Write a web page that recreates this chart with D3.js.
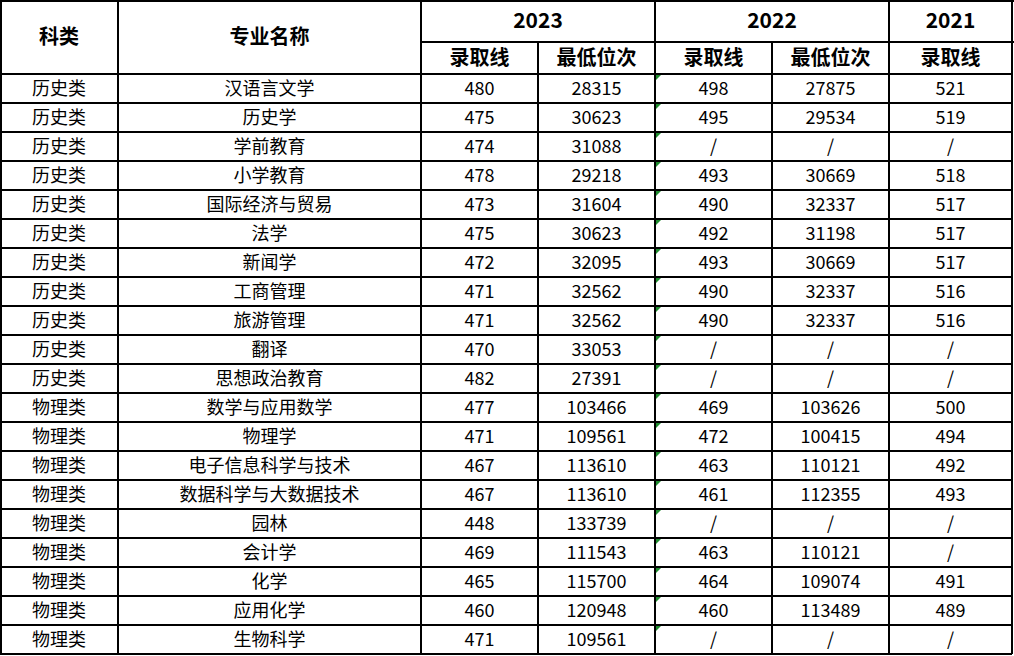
<!DOCTYPE html>
<html><head><meta charset="utf-8">
<script src="https://cdn.jsdelivr.net/npm/d3@7"></script>
<style>body{margin:0;background:#fff}text{font-family:"Noto Sans CJK SC","Noto Sans",sans-serif}</style>
</head><body>
<script>
var categories = ["历史类","历史类","历史类","历史类","历史类","历史类","历史类","历史类","历史类","历史类","历史类",
  "物理类","物理类","物理类","物理类","物理类","物理类","物理类","物理类","物理类"];
var majors = ["汉语言文学","历史学","学前教育","小学教育","国际经济与贸易","法学","新闻学","工商管理","旅游管理","翻译","思想政治教育",
  "数学与应用数学","物理学","电子信息科学与技术","数据科学与大数据技术","园林","会计学","化学","应用化学","生物科学"];
var score2023 = [480,475,474,478,473,475,472,471,471,470,482,477,471,467,467,448,469,465,460,471];
var rank2023 = [28315,30623,31088,29218,31604,30623,32095,32562,32562,33053,27391,103466,109561,113610,113610,133739,111543,115700,120948,109561];
var score2022 = ["498","495","/","493","490","492","493","490","490","/","/","469","472","463","461","/","463","464","460","/"];
var rank2022 = ["27875","29534","/","30669","32337","31198","30669","32337","32337","/","/","103626","100415","110121","112355","/","110121","109074","113489","/"];
var score2021 = ["521","519","/","518","517","517","517","516","516","/","/","500","494","492","493","/","/","491","489","/"];
var years = ["2023","2022","2021"];
var subHeads = ["录取线","最低位次","录取线","最低位次","录取线"];

var W = 1014, H = 656;
var colEdges = [0,118,421,538,655,772,889,1012];
var top2 = 42, top3 = 74, rowH = 29;
var svg = d3.select("body").append("svg").attr("width",W).attr("height",H);
var y = d3.scaleBand().domain(d3.range(20)).range([top3, top3 + 20*rowH]);

var rows = d3.range(20).map(function(i){
  return [categories[i], majors[i], score2023[i], rank2023[i], score2022[i], rank2022[i], score2021[i]];
});
var g = svg.append("g");
rows.forEach(function(r,i){
  r.forEach(function(v,c){
    g.append("text").attr("x",(colEdges[c]+colEdges[c+1])/2).attr("y",y(i)+rowH/2-2)
      .attr("text-anchor","middle").attr("dominant-baseline","central")
      .attr("font-size",18).attr("fill","#000").text(v);
  });
  g.append("path").attr("d","M"+(colEdges[4]+1)+","+(y(i)+1)+"h5l-5,5z").attr("fill","#1e8c2e");
});

function head(x0,x1,y0,y1,t,fs){
  svg.append("text").attr("x",(x0+x1)/2).attr("y",(y0+y1)/2-2)
    .attr("text-anchor","middle").attr("dominant-baseline","central")
    .attr("font-size",fs).attr("font-weight","bold").text(t);
}
head(0,118,0,top3,"科类",20);
head(118,421,0,top3,"专业名称",20);
head(421,655,0,top2,years[0],21);
head(655,889,0,top2,years[1],21);
head(889,1012,0,top2,years[2],21);
subHeads.forEach(function(t,k){ head(colEdges[k+2],colEdges[k+3],top2,top3,t,20); });

var lines = svg.append("g").attr("stroke","#000").attr("stroke-width",1.3).attr("shape-rendering","crispEdges");
var bottom = top3 + 20*rowH;
colEdges.forEach(function(x,k){
  var xx = k==0 ? 1 : x;
  lines.append("line").attr("x1",xx).attr("x2",xx).attr("y1",0).attr("y2",bottom);
});
lines.append("line").attr("x1",0).attr("x2",W).attr("y1",1).attr("y2",1);
lines.append("line").attr("x1",421).attr("x2",W).attr("y1",top2).attr("y2",top2);
d3.range(21).forEach(function(i){
  var yy = top3 + i*rowH;
  lines.append("line").attr("x1",0).attr("x2",colEdges[7]).attr("y1",yy).attr("y2",yy);
});
// hide sub-column dividers in the year row
[538,772].forEach(function(x){
  svg.append("rect").attr("x",x-2).attr("y",2).attr("width",4).attr("height",top2-3).attr("fill","#fff");
});
svg.selectAll("text").raise();
</script>
</body></html>
